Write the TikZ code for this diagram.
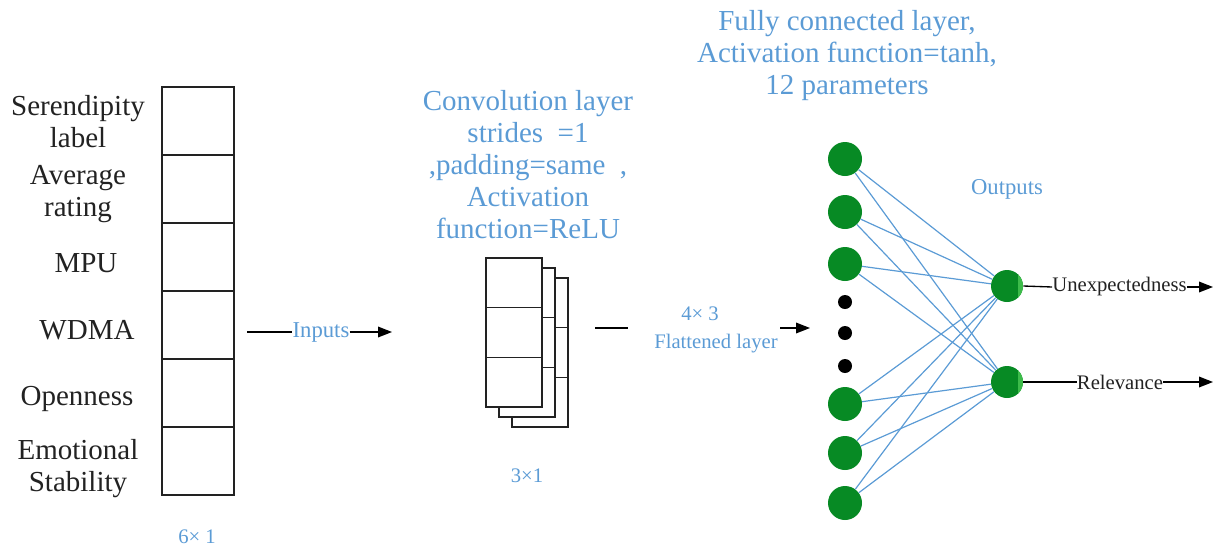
\documentclass[tikz,border=0pt]{standalone}
\usepackage{fontspec}
\setmainfont{Liberation Serif}
\usetikzlibrary{arrows.meta}
\definecolor{txtDark}{HTML}{222222}
\definecolor{txtBlue}{HTML}{5B9BD5}
\definecolor{wireBlue}{HTML}{5B9BD5}
\definecolor{nGreen}{HTML}{078A24}
\definecolor{nLight}{HTML}{3DBB4A}
\tikzset{
  cell/.style={draw=txtDark, line width=0.9pt, fill=white, minimum width=54pt,
    minimum height=51pt, inner sep=0pt, outer sep=0pt},
  ccell/.style={draw=txtDark, line width=0.9pt, fill=white, minimum width=42pt,
    minimum height=37.25pt, inner sep=0pt, outer sep=0pt},
  lbl/.style={font=\rmfamily\fontsize{21.75}{24}\selectfont, text=txtDark, align=center, inner sep=0pt},
  bluelbl/.style={font=\rmfamily\fontsize{21.75}{24}\selectfont, text=txtBlue, align=center, inner sep=0pt},
  smallblue/.style={font=\rmfamily\fontsize{15.5}{18}\selectfont, text=txtBlue, align=center, inner sep=0pt},
  smalldark/.style={font=\rmfamily\fontsize{15.5}{18}\selectfont, text=txtDark, inner sep=0pt},
  neuron/.style={circle, fill=nGreen, minimum size=25.5pt, inner sep=0pt},
  outneuron/.style={circle, fill=nGreen, minimum size=24pt, inner sep=0pt,
    path picture={\fill[nLight] ([xshift=8.5pt,yshift=-14pt]path picture bounding box.center)
      rectangle ++(12pt,28pt);}},
  dot/.style={circle, fill=black, minimum size=10.5pt, inner sep=0pt},
  wire/.style={draw=wireBlue, line width=0.9pt},
  arr/.style={-{Triangle[length=10.5pt,width=8pt]}, line width=1pt, draw=black},
  plain/.style={line width=1pt, draw=black},
}
\begin{document}
\begin{tikzpicture}[x=0.75pt, y=-0.75pt]
\useasboundingbox (0,0) rectangle (1214,547);

% input vector 6x1
\node[cell] (in1) at (198,121) {};
\node[cell] (in2) at (198,189) {};
\node[cell] (in3) at (198,257) {};
\node[cell] (in4) at (198,325) {};
\node[cell] (in5) at (198,393) {};
\node[cell] (in6) at (198,461) {};

\node[lbl] (l1) at (78,122) {Serendipity\\label};
\node[lbl] (l2) at (78,194) {Average\\rating};
\node[lbl] (l3) at (86,263) {MPU};
\node[lbl] (l4) at (87,330) {WDMA};
\node[lbl] (l5) at (77,399) {Openness};
\node[lbl] (l6) at (78,469) {Emotional\\Stability};
\node[smallblue] (dimin) at (197,537) {6× 1};

% inputs arrow
\coordinate (is) at (247,332);
\coordinate (ie) at (392,332);
\node[smallblue, font=\rmfamily\fontsize{17}{20}\selectfont] (inputs) at (321,332) {Inputs};
\draw[plain] (is) -- (inputs.west);
\draw[arr] (inputs.east) -- (ie);

% convolution feature maps (back to front)
\foreach \k in {2,1,0}
  \foreach \i in {0,1,2}
    \node[ccell] (c\k\i) at ({514+13*\k},{282.8+49.67*\i+10*\k}) {};
\node[bluelbl] (convlbl) at (528,165)
  {Convolution layer\\strides \ =1 \\ ,padding=same \ ,\\Activation\\function=ReLU};
\node[smallblue] (dimconv) at (527,476) {3×1};

% flatten
\coordinate (fa) at (595,328);
\coordinate (fb) at (628,328);
\coordinate (fc) at (780,328);
\coordinate (fd) at (810,328);
\node[smallblue] (flat1) at (700,314) {4× 3};
\node[smallblue] (flat2) at (716,344) {Flattened layer};
\draw[plain] (fa) -- (fb);
\draw[arr] (fc) -- (fd);

% fully connected layer
\node[bluelbl] (fclbl) at (847,56)
  {Fully connected layer,\\Activation function=tanh,\\12 parameters};
\node[neuron] (h1) at (845,159) {};
\node[neuron] (h2) at (845,212) {};
\node[neuron] (h3) at (845,264) {};
\node[dot] (d1) at (845,302) {};
\node[dot] (d2) at (845,333) {};
\node[dot] (d3) at (845,366) {};
\node[neuron] (h4) at (845,404) {};
\node[neuron] (h5) at (845,453) {};
\node[neuron] (h6) at (845,503) {};

% outputs
\node[outneuron] (o1) at (1007,286) {};
\node[outneuron] (o2) at (1007,382) {};
\node[smallblue, font=\rmfamily\fontsize{17}{20}\selectfont] (outlbl) at (1007,189) {Outputs};

\foreach \h in {h1,h2,h3,h4,h5,h6}
  \foreach \o in {o1,o2}
    \draw[wire] (\h) -- (\o);

\node[smalldark] (unexp) at (1119.5,287) {Unexpectedness};
\node[smalldark] (relev) at (1120,382) {Relevance};
\coordinate (e1) at (1213,287);
\coordinate (e2) at (1213,382);
\draw[plain] (o1.east) -- (unexp.west);
\draw[arr] (unexp.east) -- (e1);
\draw[plain] (o2.east) -- (relev.west);
\draw[arr] (relev.east) -- (e2);
\end{tikzpicture}
\end{document}
